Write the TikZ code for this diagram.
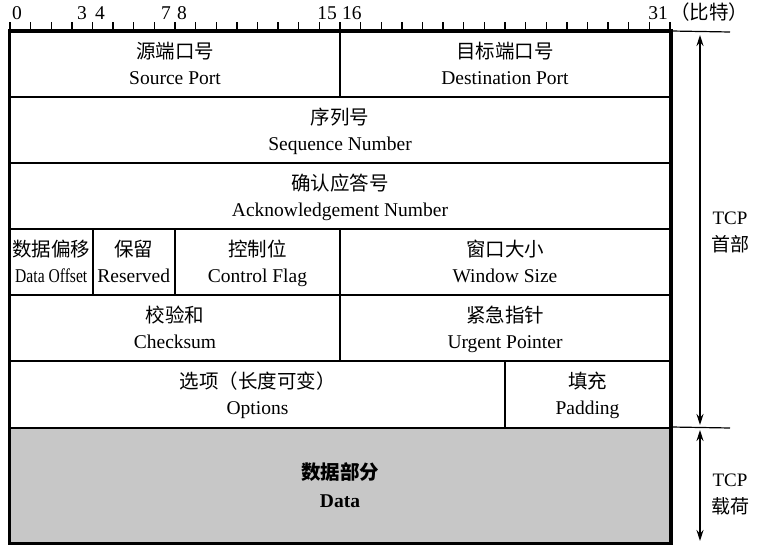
\documentclass[tikz,border=0pt]{standalone}
\usepackage{fontspec}
\setmainfont{Liberation Serif}
\newfontfamily\cjk{Noto Sans CJK SC}
\usetikzlibrary{arrows.meta}
\newcommand{\fstrutA}{\rule[-5.5pt]{0pt}{26pt}}
\newcommand{\fstrutB}{\rule[-5.5pt]{0pt}{20pt}}
\newcommand{\lab}[2]{{\cjk #1}\fstrutA\\#2\fstrutB}
\begin{document}
\begin{tikzpicture}[x=1pt,y=-1pt,
  field/.style={draw=black,line width=2pt,inner sep=0pt,align=center,
    font=\fontsize{19.5}{26}\selectfont},
  tick/.style={line width=1.3pt},
  num/.style={font=\fontsize{19.5}{20}\selectfont,inner sep=0pt},
  side/.style={font=\fontsize{19}{27}\selectfont,align=center,inner sep=0pt},
  dim/.style={line width=1.4pt,{Stealth[length=11pt,width=7pt]}-{Stealth[length=11pt,width=7pt]}}]
\useasboundingbox (0,0) rectangle (761,545);
% ruler
\foreach \k in {0,...,32} \draw[tick] ({10+20.625*\k},32) -- ++(0,-10);
\draw[line width=2.5pt] (10,32) -- (670,32);
\node[num,anchor=base west] (n0) at (12,20) {0};
\node[num,anchor=base east] (n3) at (87,20) {3};
\node[num,anchor=base west] (n4) at (95,20) {4};
\node[num,anchor=base east] (n7) at (171,20) {7};
\node[num,anchor=base west] (n8) at (177,20) {8};
\node[num,anchor=base east] (n15) at (337,20) {15};
\node[num,anchor=base west] (n16) at (342,20) {16};
\node[num,anchor=base east] (n31) at (668,20) {31};
\node[num,anchor=base west] (nbit) at (670,20) {\cjk （比特）};
% fields
\node[field,minimum width=330pt,minimum height=65pt] (src) at (175,64.5) {\lab{源端口号}{Source Port}};
\node[field,minimum width=330pt,minimum height=65pt] (dst) at (505,64.5) {\lab{目标端口号}{Destination Port}};
\node[field,minimum width=660pt,minimum height=66pt] (seq) at (340,130) {\lab{序列号}{Sequence Number}};
\node[field,minimum width=660pt,minimum height=66pt] (ack) at (340,196) {\lab{确认应答号}{Acknowledgement Number}};
\node[field,minimum width=82.5pt,minimum height=66pt] (doff) at (51.25,262) {\lab{数据偏移}{\scalebox{0.8}[1]{Data Offset}}};
\node[field,minimum width=82.5pt,minimum height=66pt] (res) at (133.75,262) {\lab{保留}{Reserved}};
\node[field,minimum width=165pt,minimum height=66pt] (ctrl) at (257.5,262) {\lab{控制位}{Control Flag}};
\node[field,minimum width=330pt,minimum height=66pt] (win) at (505,262) {\lab{窗口大小}{Window Size}};
\node[field,minimum width=330pt,minimum height=66pt] (chk) at (175,328) {\lab{校验和}{Checksum}};
\node[field,minimum width=330pt,minimum height=66pt] (urg) at (505,328) {\lab{紧急指针}{Urgent Pointer}};
\node[field,minimum width=495pt,minimum height=67pt] (opt) at (257.5,394.5) {\lab{选项（长度可变）}{Options}};
\node[field,minimum width=165pt,minimum height=67pt] (pad) at (587.5,394.5) {\lab{填充}{Padding}};
\node[field,fill=black!22,minimum width=660pt,minimum height=115pt,font=\fontsize{19.5}{28}\selectfont\bfseries] (data) at (340,485.5) {\lab{数据部分}{Data}};
% outer frame
\draw[line width=3pt] (src.north west) rectangle (data.south east);
% right side dimension
\coordinate (hT) at (730,32);
\coordinate (hB) at (730,428);
\coordinate (aT) at (700,32);
\coordinate (aM) at (700,428);
\coordinate (aB) at (700,543);
\draw[line width=1.2pt] (dst.north east) -- (hT);
\draw[line width=1.2pt] (data.north east) -- (hB);
\draw[dim,shorten <=3pt,shorten >=3pt] (aT) -- (aM);
\draw[dim,shorten <=2pt,shorten >=2pt] (aM) -- (aB);
\node[side] (hdr) at (730,232) {TCP\\{\cjk 首部}};
\node[side] (pl) at (730,494) {TCP\\{\cjk 载荷}};
\end{tikzpicture}
\end{document}
